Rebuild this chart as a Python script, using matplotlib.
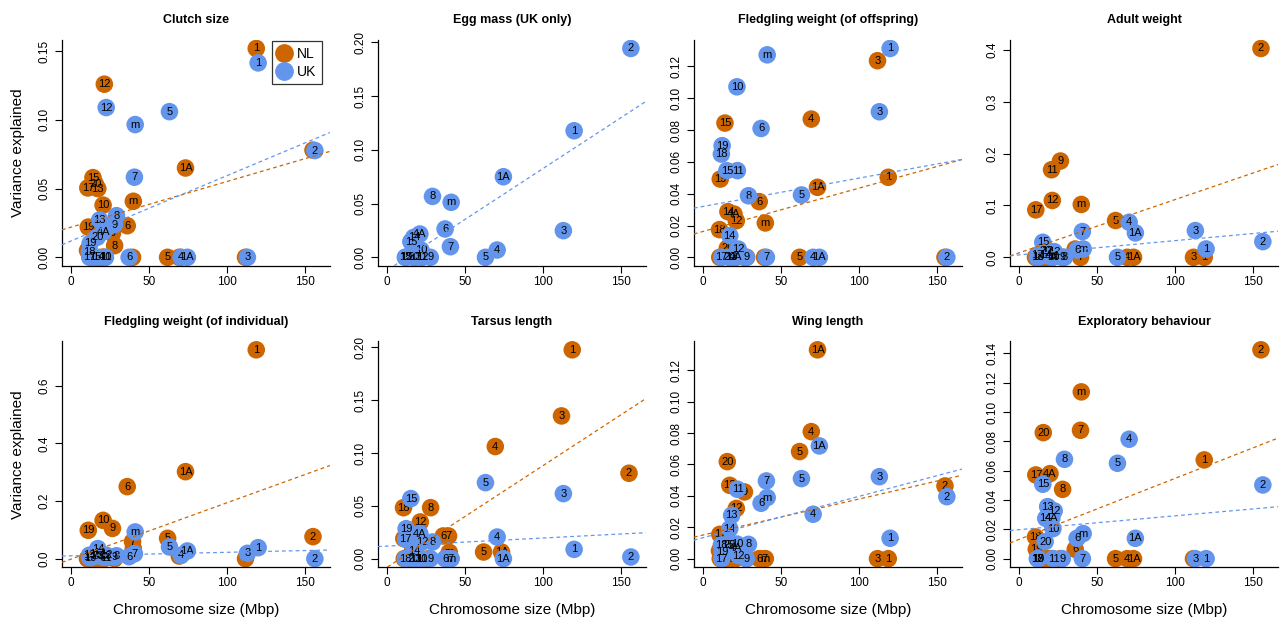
import matplotlib
matplotlib.use('Agg')
import matplotlib.pyplot as plt
import numpy as np
from matplotlib.ticker import MultipleLocator, FormatStrFormatter
from matplotlib.lines import Line2D

plt.rcParams['font.family'] = ['Liberation Sans', 'DejaVu Sans']

# chromosomes and their size (Mbp)
chroms = ['1', '1A', '2', '3', '4', '4A', '5', '6', '7', '8', '9', '10',
          '11', '12', '13', '14', '15', '17', '18', '19', '20', 'm']
chrom_size = [119.3, 73.9, 155.7, 112.4, 69.9, 20.3, 62.4, 36.5, 39.9, 28.4, 27.0, 21.0,
              21.3, 21.8, 17.6, 16.4, 14.5, 11.2, 11.0, 11.5, 16.0, 40.4]

# variance explained per chromosome (same order as chroms)
clutch_nl = [0.152, 0.065, 0.078, 0, 0, 0, 0, 0.023, 0, 0.0085, 0.0175, 0.038,
             0, 0.126, 0.050, 0, 0.058, 0.0505, 0.005, 0.022, 0.0535, 0.0408]
clutch_uk = [0.1415, 0, 0.0777, 0, 0, 0.0187, 0.106, 0, 0.0583, 0.0303, 0.0238, 0,
             0, 0.109, 0.0272, 0, 0, 0, 0.0036, 0.0102, 0.0146, 0.0966]

egg_uk = [0.1178, 0.075, 0.1944, 0.0248, 0.0068, 0.0217, 0, 0.0264, 0.0099, 0.0567, 0, 0.0068,
          0, 0, 0, 0.0186, 0.0146, 0, 0, 0, 0, 0.0512]

offspring_nl = [0.0503, 0.044, 0, 0.1236, 0.0869, 0.0272, 0, 0.035, 0, 0, 0, 0,
                0, 0.023, 0, 0.0287, 0.0844, 0, 0.0174, 0.0492, 0.0057, 0.0216]
offspring_uk = [0.1313, 0, 0, 0.0915, 0, 0, 0.0392, 0.081, 0, 0.0387, 0, 0.1072,
                0.0545, 0.0052, 0, 0.0136, 0.0545, 0, 0.0649, 0.0702, 0, 0.1273]

adult_nl = [0, 0, 0.403, 0, 0, 0, 0.071, 0.016, 0, 0, 0.1858, 0,
            0.169, 0.1097, 0, 0, 0, 0.0916, 0, 0, 0, 0.102]
adult_uk = [0.0161, 0.0471, 0.0303, 0.0516, 0.0677, 0, 0, 0.0142, 0.0497, 0, 0, 0,
            0.003, 0.011, 0.013, 0.004, 0.029, 0.005, 0, 0, 0.012, 0.0161]

indiv_nl = [0.725, 0.302, 0.0765, 0, 0.009, 0, 0.0707, 0.25, 0.059, 0, 0.105, 0.133,
            0, 0, 0, 0, 0, 0, 0, 0.0985, 0, 0.035]
indiv_uk = [0.0382, 0.0267, 0, 0.0185, 0.0116, 0.005, 0.0406, 0.007, 0.017, 0.01, 0.005, 0.008,
            0.004, 0.012, 0.02, 0.035, 0.015, 0.005, 0.012, 0.003, 0.01, 0.0927]

tarsus_nl = [0.1978, 0.0063, 0.0809, 0.1352, 0.1062, 0, 0.0063, 0.0215, 0.0215, 0.0483, 0, 0,
             0, 0.0348, 0, 0.006, 0, 0.019, 0.0483, 0, 0, 0.006]
tarsus_uk = [0.0088, 0, 0.0016, 0.0616, 0.0205, 0.0237, 0.072, 0, 0, 0.0158, 0, 0,
             0, 0.0158, 0, 0.0073, 0.0569, 0.0183, 0, 0.0284, 0, 0]

wing_nl = [0, 0.133, 0.0463, 0, 0.0809, 0, 0.0682, 0, 0, 0, 0.0425, 0,
           0, 0.032, 0.0467, 0, 0, 0.0155, 0.005, 0, 0.0618, 0]
wing_uk = [0.013, 0.0718, 0.0395, 0.0522, 0.0283, 0.007, 0.051, 0.0353, 0.0495, 0.0091, 0, 0.0093,
           0.0442, 0.002, 0.0276, 0.0191, 0.009, 0, 0.0087, 0.0042, 0.009, 0.0389]

explor_nl = [0.0674, 0, 0.1425, 0, 0, 0.058, 0, 0.0064, 0.0876, 0.0473, 0, 0,
             0, 0, 0, 0, 0, 0.0571, 0.0148, 0.0064, 0.086, 0.1138]
explor_uk = [0, 0.0139, 0.0503, 0, 0.0815, 0.0275, 0.0651, 0.0139, 0, 0.0678, 0, 0.0205,
             0, 0.0326, 0.0355, 0.0275, 0.0508, 0, 0, 0, 0.0116, 0.0171]

# regression lines (intercept, slope)
titles = ['Clutch size', 'Egg mass (UK only)', 'Fledgling weight (of offspring)', 'Adult weight',
          'Fledgling weight (of individual)', 'Tarsus length', 'Wing length', 'Exploratory behaviour']
nl_intercept = [0.0220, None, 0.0163, 0.0088, -0.0012, -0.0080, 0.0151, 0.0132]
nl_slope = [0.000332, None, 0.000272, 0.001026, 0.001955, 0.000962, 0.000229, 0.000416]
uk_intercept = [0.0120, -0.0119, 0.0320, 0.0047, 0.0099, 0.0119, 0.0134, 0.0198]
uk_slope = [0.000475, 0.000946, 0.000178, 0.000275, 0.000122, 0.0000766, 0.000263, 0.0000943]

# tick spacing and decimals for y axes
y_step = [0.05, 0.05, 0.02, 0.1, 0.2, 0.05, 0.02, 0.02]
y_dec = [2, 2, 2, 1, 1, 2, 2, 2]

nl_values = [clutch_nl, None, offspring_nl, adult_nl, indiv_nl, tarsus_nl, wing_nl, explor_nl]
uk_values = [clutch_uk, egg_uk, offspring_uk, adult_uk, indiv_uk, tarsus_uk, wing_uk, explor_uk]

NL_COL = '#CD6600'
UK_COL = '#6495ED'

fig, axes = plt.subplots(2, 4, figsize=(12.8, 6.17), dpi=100)
fig.subplots_adjust(left=0.0484, right=0.9984, top=0.935, bottom=0.081, wspace=0.179, hspace=0.336)

size = np.array(chrom_size)

for i, ax in enumerate(axes.flat):
    z = 2
    all_vals = []
    for vals, col, off in ((nl_values[i], NL_COL, -0.6), (uk_values[i], UK_COL, 0.6)):
        if vals is None:
            continue
        x = size + off
        ax.scatter(x, vals, s=160, color=col, edgecolors='none', zorder=z)
        for xi, yi, lab in zip(x, vals, chroms):
            ax.text(xi, yi, lab, ha='center', va='center', fontsize=8, zorder=z + 0.1)
        z += 0.2
        all_vals += list(vals)

    # dashed regression lines
    if nl_intercept[i] is not None:
        ax.axline((0, nl_intercept[i]), slope=nl_slope[i], color=NL_COL, lw=0.9,
                  linestyle=(0, (3, 2.5)), zorder=3)
    ax.axline((0, uk_intercept[i]), slope=uk_slope[i], color=UK_COL, lw=0.9,
              linestyle=(0, (3, 2.5)), zorder=3)

    lo, hi = min(all_vals), max(all_vals)
    pad = 0.04 * (hi - lo)
    ax.set_ylim(lo - pad, hi + pad)
    ax.set_xlim(-6, 166)

    ax.xaxis.set_major_locator(MultipleLocator(50))
    ax.yaxis.set_major_locator(MultipleLocator(y_step[i]))
    ax.yaxis.set_major_formatter(FormatStrFormatter('%.' + str(y_dec[i]) + 'f'))
    ax.tick_params(axis='both', direction='out', length=5, width=0.8, labelsize=8.5, pad=2.5)
    ax.tick_params(axis='y', labelrotation=90, pad=3)
    for lab in ax.get_yticklabels():
        lab.set_va('center')

    for side in ('top', 'right'):
        ax.spines[side].set_visible(False)
    for side in ('left', 'bottom'):
        ax.spines[side].set_linewidth(0.9)

    ax.set_title(titles[i], fontsize=9, fontweight='bold', pad=12)
    if i % 4 == 0:
        ax.set_ylabel('Variance explained', fontsize=11, labelpad=10)
    if i >= 4:
        ax.set_xlabel('Chromosome size (Mbp)', fontsize=11, labelpad=10)

# legend only in the first panel
handles = [Line2D([], [], marker='o', linestyle='none', markersize=12.5, color=NL_COL, label='NL'),
           Line2D([], [], marker='o', linestyle='none', markersize=12.5, color=UK_COL, label='UK')]
leg = axes[0, 0].legend(handles=handles, loc='upper right', bbox_to_anchor=(0.97, 0.996),
                        borderaxespad=0, fontsize=10, frameon=True, fancybox=False,
                        handlelength=1.0, handletextpad=0.4, borderpad=0.4, labelspacing=0.3)
leg.get_frame().set_edgecolor('black')
leg.get_frame().set_linewidth(0.9)

plt.savefig('out.png', dpi=100)
